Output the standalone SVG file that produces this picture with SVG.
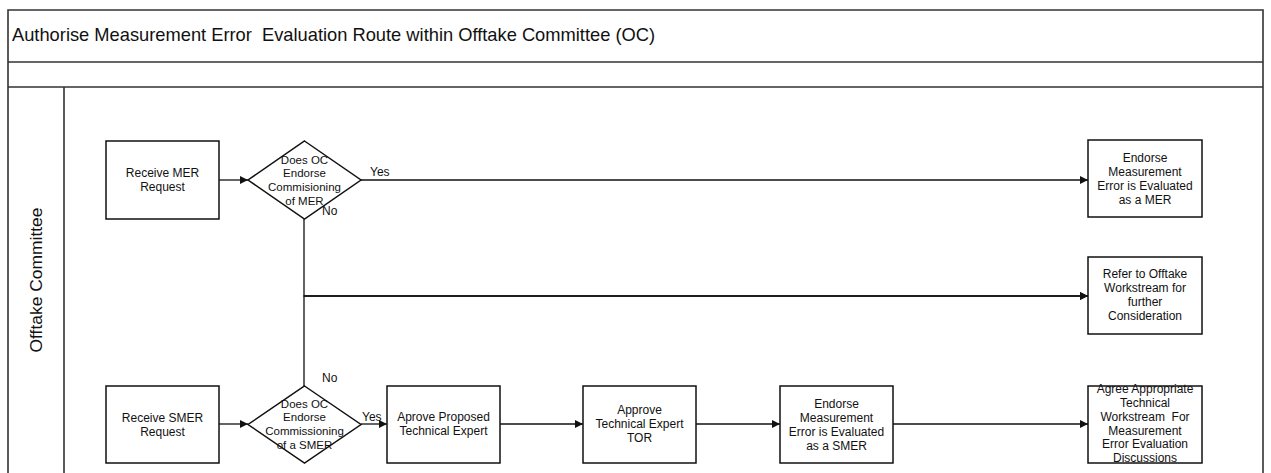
<svg xmlns="http://www.w3.org/2000/svg" width="1271" height="473" viewBox="0 0 1271 473">
<style>
text{font-family:"Liberation Sans",Arial,sans-serif;fill:#111;white-space:pre}
.t{font-size:12px;text-anchor:middle}
.d{font-size:11.5px;text-anchor:middle}
.l{font-size:12px}
.box{fill:#fff;stroke:#111;stroke-width:1.5}
.frame{fill:none;stroke:#333;stroke-width:1.6}
.c{fill:none;stroke:#111;stroke-width:1.3}
</style>
<defs>
<marker id="ah" viewBox="0 0 10 10" refX="10" refY="5" markerWidth="8" markerHeight="8" markerUnits="userSpaceOnUse" orient="auto">
<path d="M0,0 L10,5 L0,10 z" fill="#111"/>
</marker>
</defs>
<rect width="1271" height="473" fill="#fff"/>
<g id="frame">
<path class="frame" d="M8,473 V10 H1263 V473 M8,62 H1263 M8,87 H1263 M64,87 V473"/>
<text x="12" y="41" font-size="19" textLength="643" lengthAdjust="spacingAndGlyphs" xml:space="preserve">Authorise Measurement Error  Evaluation Route within Offtake Committee (OC)</text>
<text transform="translate(42,280) rotate(-90)" font-size="17" text-anchor="middle" textLength="145" lengthAdjust="spacingAndGlyphs">Offtake Committee</text>
</g>
<g id="connectors">
<path class="c" d="M219,180 H248" marker-end="url(#ah)"/>
<path class="c" d="M361,180 H1088" marker-end="url(#ah)"/>
<path class="c" d="M304,219 V296 H1088" marker-end="url(#ah)"/>
<path class="c" d="M304,386 V296 H1088" marker-end="url(#ah)"/>
<path class="c" d="M219,424 H248" marker-end="url(#ah)"/>
<path class="c" d="M361,424 H387" marker-end="url(#ah)"/>
<path class="c" d="M500,424 H583" marker-end="url(#ah)"/>
<path class="c" d="M696,424 H780" marker-end="url(#ah)"/>
<path class="c" d="M893,424 H1088" marker-end="url(#ah)"/>
<text class="l" x="370" y="176">Yes</text>
<text class="l" x="322" y="215">No</text>
<text class="l" x="322" y="382">No</text>
<text class="l" x="362" y="421">Yes</text>
</g>
<g id="receive-mer">
<rect class="box" x="106" y="141" width="113" height="78"/>
<text class="t" x="162.5" y="177">Receive MER</text>
<text class="t" x="162.5" y="191">Request</text>
</g>
<g id="decision-mer">
<path class="box" d="M304.5,141 L361,180 L304.5,219 L248,180 z"/>
<text class="d" x="304.5" y="163.5">Does OC</text>
<text class="d" x="304.5" y="177.2">Endorse</text>
<text class="d" x="304.5" y="190.8">Commisioning</text>
<text class="d" x="304.5" y="204.5">of MER</text>
</g>
<g id="endorse-mer">
<rect class="box" x="1088" y="140" width="114" height="77"/>
<text class="t" x="1145" y="162">Endorse</text>
<text class="t" x="1145" y="176">Measurement</text>
<text class="t" x="1145" y="190">Error is Evaluated</text>
<text class="t" x="1145" y="204">as a MER</text>
</g>
<g id="refer-offtake">
<rect class="box" x="1088" y="257" width="114" height="77"/>
<text class="t" x="1145" y="278">Refer to Offtake</text>
<text class="t" x="1145" y="292">Workstream for</text>
<text class="t" x="1145" y="306">further</text>
<text class="t" x="1145" y="320">Consideration</text>
</g>
<g id="receive-smer">
<rect class="box" x="106" y="386" width="113" height="77"/>
<text class="t" x="162.5" y="422">Receive SMER</text>
<text class="t" x="162.5" y="436">Request</text>
</g>
<g id="decision-smer">
<path class="box" d="M304.5,386 L361,424.5 L304.5,463 L248,424.5 z"/>
<text class="d" x="304.5" y="407.5">Does OC</text>
<text class="d" x="304.5" y="421.2">Endorse</text>
<text class="d" x="304.5" y="434.8">Commissioning</text>
<text class="d" x="304.5" y="448.5">of a SMER</text>
</g>
<g id="aprove-expert">
<rect class="box" x="387" y="386" width="113" height="77"/>
<text class="t" x="443.5" y="421">Aprove Proposed</text>
<text class="t" x="443.5" y="435">Technical Expert</text>
</g>
<g id="approve-tor">
<rect class="box" x="583" y="386" width="113" height="77"/>
<text class="t" x="639.5" y="414">Approve</text>
<text class="t" x="639.5" y="428">Technical Expert</text>
<text class="t" x="639.5" y="442">TOR</text>
</g>
<g id="endorse-smer">
<rect class="box" x="780" y="386" width="113" height="77"/>
<text class="t" x="836.5" y="408">Endorse</text>
<text class="t" x="836.5" y="422">Measurement</text>
<text class="t" x="836.5" y="436">Error is Evaluated</text>
<text class="t" x="836.5" y="450">as a SMER</text>
</g>
<g id="agree-workstream">
<rect class="box" x="1088" y="386" width="114" height="77"/>
<text class="t" x="1145" y="393">Agree Appropriate</text>
<text class="t" x="1145" y="406.5">Technical</text>
<text class="t" x="1145" y="420.5" xml:space="preserve">Workstream  For</text>
<text class="t" x="1145" y="434.5">Measurement</text>
<text class="t" x="1145" y="448">Error Evaluation</text>
<text class="t" x="1145" y="462">Discussions</text>
</g>
</svg>
